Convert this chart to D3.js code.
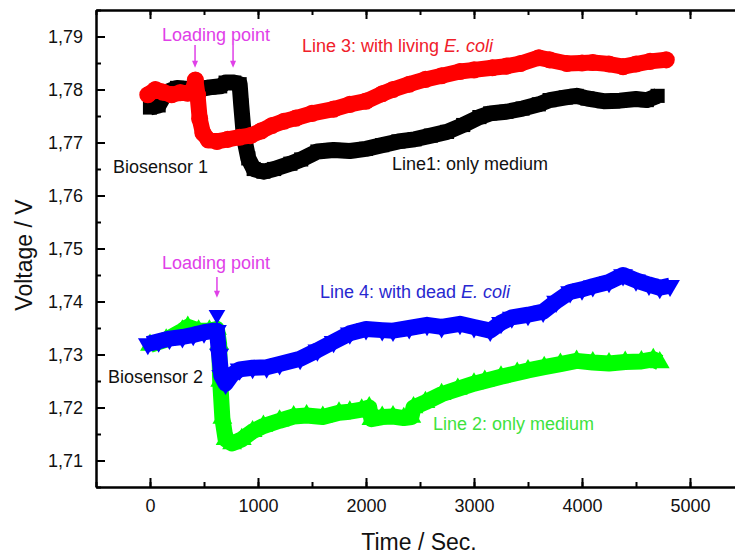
<!DOCTYPE html>
<html>
<head>
<meta charset="utf-8">
<script src="https://cdn.jsdelivr.net/npm/d3@7"></script>
<style>
  body { margin: 0; background: #fff; }
  svg text { font-family: "Liberation Sans", Arial, sans-serif; }
</style>
</head>
<body>
<svg id="chart" width="735" height="554"></svg>
<script>
// time (s) / voltage (V)
const line1Time = [0, 80, 150, 250, 350, 450, 550, 650, 700, 780, 830, 845, 870, 910, 960, 1050, 1150, 1300, 1400, 1550, 1700, 1850, 2000, 2150, 2300, 2450, 2600, 2750, 2900, 3050, 3150, 3300, 3450, 3600, 3700, 3850, 3950, 4050, 4200, 4350, 4500, 4600, 4700];
const line1Volt = [1.7766, 1.7770, 1.7795, 1.7803, 1.7801, 1.7800, 1.7804, 1.7806, 1.7813, 1.7813, 1.7810, 1.7770, 1.7710, 1.7670, 1.7650, 1.7645, 1.7650, 1.7660, 1.7668, 1.7683, 1.7686, 1.7684, 1.7688, 1.7695, 1.7702, 1.7706, 1.7713, 1.7720, 1.7733, 1.7748, 1.7755, 1.7758, 1.7764, 1.7772, 1.7780, 1.7785, 1.7788, 1.7783, 1.7778, 1.7779, 1.7782, 1.7780, 1.7788];

const line3Time = [-20, 50, 120, 200, 280, 350, 400, 420, 440, 460, 490, 540, 620, 720, 830, 930, 1030, 1130, 1240, 1350, 1500, 1700, 1850, 2000, 2150, 2250, 2400, 2550, 2700, 2870, 3000, 3170, 3300, 3430, 3600, 3700, 3860, 4000, 4100, 4250, 4380, 4500, 4630, 4780];
const line3Volt = [1.7790, 1.7800, 1.7795, 1.7790, 1.7794, 1.7793, 1.7800, 1.7818, 1.7790, 1.7745, 1.7718, 1.7705, 1.7702, 1.7706, 1.7710, 1.7713, 1.7722, 1.7732, 1.7740, 1.7746, 1.7755, 1.7763, 1.7772, 1.7778, 1.7792, 1.7800, 1.7810, 1.7819, 1.7826, 1.7834, 1.7837, 1.7841, 1.7844, 1.7849, 1.7860, 1.7856, 1.7849, 1.7850, 1.7851, 1.7848, 1.7843, 1.7848, 1.7853, 1.7856];

const line2Time = [0, 150, 300, 350, 450, 550, 620, 640, 650, 670, 700, 760, 850, 950, 1050, 1200, 1330, 1450, 1600, 1750, 1850, 1960, 2030, 2050, 2150, 2250, 2350, 2420, 2440, 2550, 2700, 2850, 3000, 3100, 3250, 3400, 3500, 3650, 3800, 3950, 4100, 4250, 4400, 4550, 4660, 4720];
const line2Volt = [1.7318, 1.7328, 1.7345, 1.7352, 1.7345, 1.7345, 1.7348, 1.7320, 1.7250, 1.7180, 1.7140, 1.7132, 1.7140, 1.7155, 1.7165, 1.7175, 1.7183, 1.7185, 1.7182, 1.7190, 1.7192, 1.7196, 1.7200, 1.7178, 1.7182, 1.7183, 1.7180, 1.7182, 1.7200, 1.7210, 1.7225, 1.7235, 1.7245, 1.7250, 1.7258, 1.7265, 1.7270, 1.7276, 1.7282, 1.7288, 1.7285, 1.7283, 1.7286, 1.7287, 1.7291, 1.7285];

const line4Time = [-20, 80, 180, 300, 400, 500, 590, 620, 640, 660, 700, 760, 830, 950, 1080, 1200, 1390, 1550, 1700, 1850, 2000, 2150, 2250, 2400, 2565, 2700, 2870, 3000, 3150, 3250, 3350, 3500, 3640, 3760, 3890, 4000, 4100, 4250, 4380, 4500, 4620, 4720, 4815];
const line4Volt = [1.7320, 1.7325, 1.7330, 1.7333, 1.7337, 1.7342, 1.7345, 1.7345, 1.7300, 1.7260, 1.7245, 1.7262, 1.7272, 1.7275, 1.7276, 1.7282, 1.7292, 1.7308, 1.7324, 1.7340, 1.7348, 1.7346, 1.7345, 1.7350, 1.7356, 1.7352, 1.7358, 1.7352, 1.7345, 1.7360, 1.7370, 1.7375, 1.7381, 1.7400, 1.7418, 1.7423, 1.7429, 1.7437, 1.7450, 1.7440, 1.7432, 1.7426, 1.7430];

const xTicks = [0, 1000, 2000, 3000, 4000, 5000];
const yTicks = [1.71, 1.72, 1.73, 1.74, 1.75, 1.76, 1.77, 1.78, 1.79];

// loading points: [time, arrow top, arrow tip]
const loadArrows = [[417, 1.7884, 1.7841], [769, 1.7884, 1.7841], [620, 1.7446, 1.7407]];
const loadMarker = [620, 1.7375];

const series = [
  { name: "line1", t: line1Time, v: line1Volt, color: "#000000", symbol: d3.symbolSquare, size: 200, rot: 0 },
  { name: "line3", t: line3Time, v: line3Volt, color: "#ff0000", symbol: d3.symbolCircle, size: 230, rot: 0 },
  { name: "line2", t: line2Time, v: line2Volt, color: "#00ff00", symbol: d3.symbolTriangle, size: 170, rot: 0 },
  { name: "line4", t: line4Time, v: line4Volt, color: "#0000ff", symbol: d3.symbolTriangle, size: 170, rot: 180 }
];

const svg = d3.select("#chart");

const x = d3.scaleLinear().domain([-500, 5500]).range([96, 744]);
const y = d3.scaleLinear().domain([1.705, 1.795]).range([487, 10]);

const fmt = v => d3.format(".2f")(v).replace(".", ",");

// series, drawn as fat marker strips
series.forEach(function(s) {
  let pts = s.t.map((t, i) => [t, s.v[i]]);
  let g = svg.append("g").attr("class", s.name);
  g.append("path")
    .datum(pts)
    .attr("fill", "none")
    .attr("stroke", s.color)
    .attr("stroke-width", 16)
    .attr("stroke-linejoin", "round")
    .attr("d", d3.line().x(d => x(d[0])).y(d => y(d[1])));
  g.selectAll("path.mk")
    .data(pts)
    .join("path")
    .attr("class", "mk")
    .attr("fill", s.color)
    .attr("transform", d => "translate(" + x(d[0]) + "," + y(d[1]) + ") rotate(" + s.rot + ")")
    .attr("d", d3.symbol().type(s.symbol).size(s.size));
});

svg.append("path")
  .attr("fill", "#0000ff")
  .attr("transform", "translate(" + x(loadMarker[0]) + "," + y(loadMarker[1]) + ") rotate(180)")
  .attr("d", d3.symbol().type(d3.symbolTriangle).size(120));

// axes, ticks pointing inward
function styleAxis(g) {
  g.selectAll(".tick text").attr("font-size", 18).attr("fill", "#111")
    .style("font-family", "Liberation Sans, Arial, sans-serif");
}

const xMinor = d3.range(-500, 5501, 500);
const yMinor = d3.range(1.705, 1.7951, 0.005);

svg.append("g").attr("transform", "translate(0,487)")
  .call(d3.axisBottom(x).tickValues(xMinor).tickSize(-5).tickFormat("").tickSizeOuter(0));
svg.append("g").attr("transform", "translate(0,10)")
  .call(d3.axisTop(x).tickValues(xMinor).tickSize(-5).tickFormat("").tickSizeOuter(0));
svg.append("g").attr("transform", "translate(96,0)")
  .call(d3.axisLeft(y).tickValues(yMinor).tickSize(-5).tickFormat("").tickSizeOuter(0));
svg.append("g").attr("transform", "translate(744,0)")
  .call(d3.axisRight(y).tickValues(yMinor).tickSize(-5).tickFormat("").tickSizeOuter(0));

svg.append("g").attr("transform", "translate(0,487)")
  .call(d3.axisBottom(x).tickValues(xTicks).tickSize(-9).tickPadding(12).tickFormat(d3.format("d")).tickSizeOuter(0))
  .call(styleAxis);
svg.append("g").attr("transform", "translate(0,10)")
  .call(d3.axisTop(x).tickValues(xTicks).tickSize(-9).tickFormat("").tickSizeOuter(0));
svg.append("g").attr("transform", "translate(96,0)")
  .call(d3.axisLeft(y).tickValues(yTicks).tickSize(-9).tickPadding(13).tickFormat(fmt).tickSizeOuter(0))
  .call(styleAxis);
svg.append("g").attr("transform", "translate(744,0)")
  .call(d3.axisRight(y).tickValues(yTicks).tickSize(-9).tickFormat("").tickSizeOuter(0));
svg.selectAll(".tick line").attr("stroke-width", 2);
svg.selectAll(".domain").attr("stroke-width", 2);

// axis titles
svg.append("text")
  .attr("transform", "translate(32,255) rotate(-90)")
  .attr("text-anchor", "middle")
  .attr("font-size", 23)
  .attr("fill", "#111")
  .text("Voltage / V");
svg.append("text")
  .attr("x", 419).attr("y", 550)
  .attr("text-anchor", "middle")
  .attr("font-size", 23)
  .attr("fill", "#111")
  .text("Time / Sec.");

// annotations
const labels = [
  { t: 111, v: 1.7892, color: "#e040e8", parts: [["Loading point", false]] },
  { t: 1407, v: 1.7871, color: "#f0202a", parts: [["Line 3: with living ", false], ["E. coli", true]] },
  { t: -343, v: 1.7642, color: "#111", parts: [["Biosensor 1", false]] },
  { t: 2241, v: 1.7648, color: "#111", parts: [["Line1: only medium", false]] },
  { t: 111, v: 1.7461, color: "#e040e8", parts: [["Loading point", false]] },
  { t: 1574, v: 1.7407, color: "#2828d0", parts: [["Line 4: with dead ", false], ["E. coli", true]] },
  { t: -389, v: 1.7246, color: "#111", parts: [["Biosensor 2", false]] },
  { t: 2620, v: 1.7158, color: "#3ee23e", parts: [["Line 2: only medium", false]] }
];

labels.forEach(function(l) {
  let txt = svg.append("text")
    .attr("x", x(l.t)).attr("y", y(l.v))
    .attr("font-size", 18)
    .attr("fill", l.color);
  l.parts.forEach(function(p) {
    txt.append("tspan").attr("font-style", p[1] ? "italic" : "normal").text(p[0]);
  });
});

// loading arrows
const arrowCol = "#e040e8";
loadArrows.forEach(function(a) {
  let px = x(a[0]), y0 = y(a[1]), y1 = y(a[2]);
  svg.append("line")
    .attr("x1", px).attr("x2", px).attr("y1", y0).attr("y2", y1 - 5)
    .attr("stroke", arrowCol).attr("stroke-width", 1.5);
  svg.append("path")
    .attr("fill", arrowCol)
    .attr("d", "M" + (px - 3) + "," + (y1 - 7) + "L" + (px + 3) + "," + (y1 - 7) + "L" + px + "," + y1 + "Z");
});
</script>
</body>
</html>
